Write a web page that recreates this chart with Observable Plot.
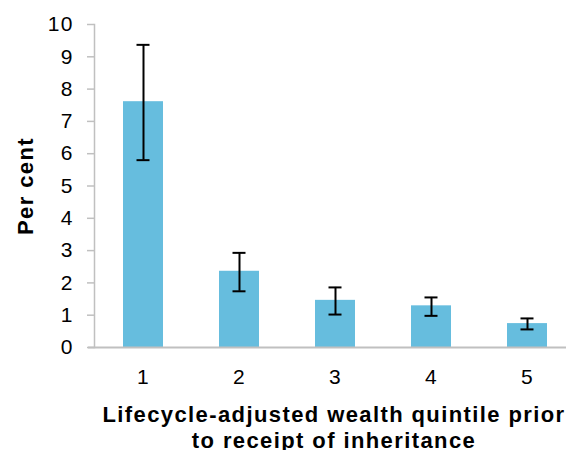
<!DOCTYPE html>
<html><head><meta charset="utf-8">
<script src="https://cdn.jsdelivr.net/npm/d3@7"></script>
<script src="https://cdn.jsdelivr.net/npm/@observablehq/plot@0.6"></script>
<style>
body{margin:0;background:#fff}
#chart svg text{letter-spacing:1.5px}
#chart svg g[aria-label="text"] text{letter-spacing:1.4px}
</style>
</head><body><div id="chart"></div>
<script>
const quintiles = ["1", "2", "3", "4", "5"];
const values = [7.61, 2.36, 1.46, 1.29, 0.74];
const errLow = [5.80, 1.74, 1.02, 0.98, 0.56];
const errHigh = [9.37, 2.93, 1.86, 1.55, 0.90];
const yTicks = [0, 1, 2, 3, 4, 5, 6, 7, 8, 9, 10];
const xTitle = "Lifecycle-adjusted wealth quintile prior\nto receipt of inheritance";
const yTitle = "Per cent";

const data = quintiles.map((q, i) => ({q, v: values[i], lo: errLow[i], hi: errHigh[i]}));

const chart = Plot.plot({
  width: 566, height: 450,
  marginTop: 24, marginBottom: 103, marginLeft: 94, marginRight: -9,
  style: {fontFamily: "'Liberation Sans', Arial, sans-serif", fontSize: "21px", color: "#000", background: "#fff"},
  x: {domain: quintiles, paddingInner: 0.585, paddingOuter: 0.2925, label: null},
  y: {domain: [0, 10], label: null},
  marks: [
    Plot.barY(data, {x: "q", y: "v", fill: "#66bdde"}),
    Plot.frame({anchor: "left", stroke: "#c0c0c0", strokeWidth: 1.5}),
    Plot.ruleY([0], {stroke: "#c0c0c0", strokeWidth: 2, insetLeft: -6}),
    Plot.axisY({ticks: yTicks, tickSize: 7, tickPadding: 13.5, stroke: "#c0c0c0", fill: "#000", strokeWidth: 1.5, fontSize: 21, label: null}),
    Plot.axisX({tickSize: 0, tickPadding: 22, fill: "#000", fontSize: 21, label: null}),
    Plot.ruleX(data, {x: "q", y1: "lo", y2: "hi", stroke: "#000", strokeWidth: 2}),
    Plot.tickY(data, {x: "q", y: "lo", stroke: "#000", strokeWidth: 2, insetLeft: 13.5, insetRight: 13.5}),
    Plot.tickY(data, {x: "q", y: "hi", stroke: "#000", strokeWidth: 2, insetLeft: 13.5, insetRight: 13.5}),
    Plot.text([xTitle], {text: d => d, frameAnchor: "bottom", lineAnchor: "top", dy: 56, dx: -1, fontWeight: "bold", fontSize: 22, lineHeight: 1.17, fill: "#000"}),
    Plot.text([yTitle], {text: d => d, frameAnchor: "left", textAnchor: "middle", lineAnchor: "middle", rotate: -90, dx: -69, fontWeight: "bold", fontSize: 22, fill: "#000"})
  ]
});
document.getElementById("chart").append(chart);
</script>
</body></html>
